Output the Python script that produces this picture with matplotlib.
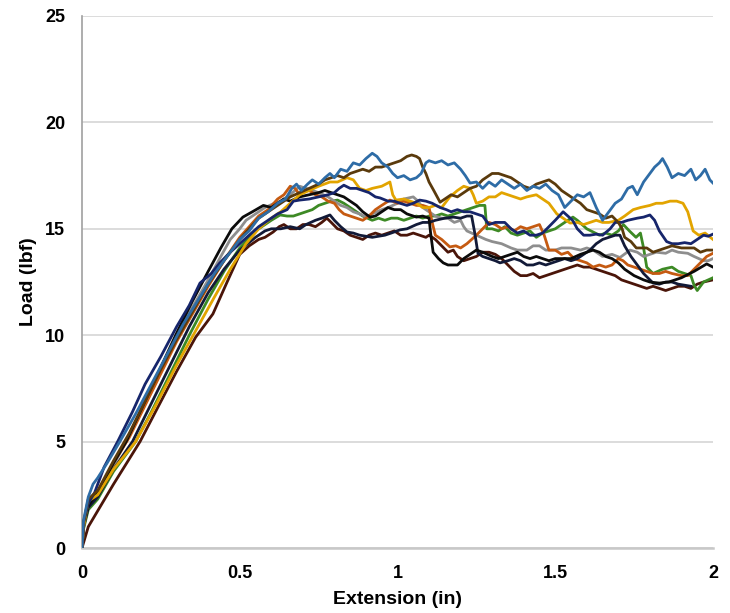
import numpy as np
import matplotlib.pyplot as plt

# Load vs extension traces, one list of (extension in, load lbf) per specimen
blue = [(0, 0), (0.005, 1.3), (0.02, 2.4), (0.035, 3.0), (0.05, 3.3), (0.08, 4.0), (0.12, 5.0), (0.17, 6.3),
        (0.22, 7.7), (0.27, 9.1), (0.32, 10.5), (0.37, 11.7), (0.42, 12.9), (0.47, 13.9), (0.5, 14.5),
        (0.53, 14.9), (0.56, 15.5), (0.59, 15.8), (0.62, 16.2), (0.645, 16.4), (0.665, 16.9), (0.68, 17.1),
        (0.695, 16.8), (0.715, 17.1), (0.73, 17.3), (0.75, 17.1), (0.77, 17.4), (0.786, 17.6), (0.8, 17.4),
        (0.82, 17.8), (0.84, 17.7), (0.86, 18.1), (0.88, 18.0), (0.9, 18.3), (0.92, 18.55), (0.935, 18.4),
        (0.95, 18.1), (0.97, 17.9), (0.985, 17.6), (1.0, 17.4), (1.02, 17.5), (1.04, 17.3), (1.06, 17.4),
        (1.075, 17.6), (1.09, 18.1), (1.1, 18.2), (1.12, 18.1), (1.14, 18.2), (1.16, 18.0), (1.18, 18.1),
        (1.2, 17.8), (1.215, 17.5), (1.23, 17.15), (1.25, 17.2), (1.27, 16.9), (1.29, 17.2), (1.31, 17.0),
        (1.33, 17.3), (1.35, 17.1), (1.37, 16.9), (1.39, 17.1), (1.41, 16.8), (1.43, 17.0), (1.45, 16.9),
        (1.47, 17.1), (1.49, 16.8), (1.51, 16.6), (1.53, 16.0), (1.55, 16.3), (1.57, 16.6), (1.59, 16.5),
        (1.61, 16.7), (1.63, 16.0), (1.65, 15.4), (1.67, 15.8), (1.69, 16.2), (1.71, 16.4), (1.73, 16.9),
        (1.745, 17.0), (1.76, 16.6), (1.78, 17.2), (1.8, 17.6), (1.815, 17.9), (1.83, 18.1), (1.84, 18.3),
        (1.855, 17.9), (1.87, 17.4), (1.89, 17.6), (1.91, 17.5), (1.93, 17.8), (1.945, 17.3), (1.96, 17.5),
        (1.975, 17.8), (1.99, 17.3), (2.0, 17.15)]

orange = [(0, 0), (0.005, 1.1), (0.02, 2.2), (0.05, 2.6), (0.1, 4.0), (0.15, 5.2), (0.2, 6.7), (0.25, 8.2),
          (0.3, 9.7), (0.35, 11.0), (0.4, 12.3), (0.45, 13.5), (0.5, 14.6), (0.53, 15.1), (0.56, 15.6),
          (0.59, 15.9), (0.62, 16.4), (0.64, 16.6), (0.66, 17.0), (0.675, 16.9), (0.69, 16.6), (0.705, 16.8),
          (0.72, 16.8), (0.74, 16.6), (0.76, 16.5), (0.78, 16.3), (0.8, 16.2), (0.815, 15.9), (0.83, 15.7),
          (0.85, 15.6), (0.87, 15.5), (0.89, 15.4), (0.91, 15.6), (0.93, 15.9), (0.95, 16.1), (0.976, 16.35),
          (1.0, 16.2), (1.02, 16.3), (1.04, 16.2), (1.06, 16.1), (1.08, 16.1), (1.1, 16.0), (1.11, 15.3),
          (1.12, 14.7), (1.14, 14.5), (1.166, 14.15), (1.185, 14.2), (1.2, 14.1), (1.22, 14.3), (1.25, 14.7),
          (1.27, 15.0), (1.29, 15.3), (1.31, 15.2), (1.33, 15.0), (1.35, 15.1), (1.37, 14.9), (1.39, 15.1),
          (1.41, 15.0), (1.43, 15.1), (1.45, 15.2), (1.465, 14.7), (1.48, 14.0), (1.5, 14.0), (1.52, 13.8),
          (1.54, 13.9), (1.56, 13.6), (1.58, 13.5), (1.6, 13.4), (1.62, 13.2), (1.64, 13.3), (1.66, 13.2),
          (1.68, 13.3), (1.7, 13.6), (1.715, 13.5), (1.73, 13.3), (1.75, 13.2), (1.77, 13.1), (1.79, 13.0),
          (1.81, 12.9), (1.83, 12.9), (1.85, 13.0), (1.87, 12.9), (1.9, 12.8), (1.92, 12.8), (1.94, 13.1),
          (1.96, 13.4), (1.98, 13.7), (2.0, 13.85)]

gray = [(0, 0), (0.005, 1.0), (0.02, 2.0), (0.05, 2.5), (0.1, 3.9), (0.14, 5.0), (0.2, 6.9), (0.25, 8.4),
        (0.3, 9.9), (0.35, 11.3), (0.4, 12.6), (0.44, 13.7), (0.47, 14.5), (0.5, 15.0), (0.52, 15.4),
        (0.55, 15.7), (0.58, 16.0), (0.61, 16.2), (0.63, 16.3), (0.66, 16.6), (0.69, 17.0), (0.71, 16.9),
        (0.73, 16.8), (0.75, 16.7), (0.78, 16.5), (0.8, 16.3), (0.82, 16.1), (0.84, 16.0), (0.86, 15.8),
        (0.88, 15.7), (0.9, 15.55), (0.92, 15.7), (0.95, 15.9), (0.97, 16.0), (1.0, 16.2), (1.02, 16.4),
        (1.05, 16.5), (1.065, 16.3), (1.08, 16.0), (1.1, 15.8), (1.12, 15.6), (1.14, 15.5), (1.16, 15.5),
        (1.18, 15.3), (1.2, 15.4), (1.21, 15.1), (1.22, 14.9), (1.25, 14.7), (1.28, 14.5), (1.3, 14.4),
        (1.33, 14.3), (1.36, 14.1), (1.38, 14.0), (1.41, 14.0), (1.43, 14.2), (1.45, 14.2), (1.47, 14.0),
        (1.5, 14.0), (1.52, 14.1), (1.55, 14.1), (1.58, 14.0), (1.6, 14.1), (1.62, 14.0), (1.65, 13.7),
        (1.68, 13.8), (1.705, 13.65), (1.737, 14.0), (1.76, 13.9), (1.78, 13.7), (1.8, 13.8), (1.82, 13.9),
        (1.85, 13.85), (1.87, 14.0), (1.89, 13.9), (1.92, 13.85), (1.94, 13.7), (1.97, 13.5), (1.985, 13.5),
        (2.0, 13.6)]

gold = [(0, 0), (0.005, 1.0), (0.02, 2.2), (0.05, 2.5), (0.1, 3.7), (0.17, 5.0), (0.23, 6.6), (0.3, 8.6),
        (0.36, 10.2), (0.42, 11.8), (0.47, 13.1), (0.52, 14.3), (0.56, 15.0), (0.6, 15.5), (0.63, 15.8),
        (0.66, 16.2), (0.69, 16.6), (0.72, 16.8), (0.75, 17.0), (0.786, 17.2), (0.81, 17.2), (0.84, 17.4),
        (0.86, 17.3), (0.88, 16.9), (0.9, 16.8), (0.92, 16.9), (0.95, 17.0), (0.976, 17.2), (0.985, 16.6),
        (0.995, 16.35), (1.02, 16.4), (1.04, 16.3), (1.06, 16.2), (1.08, 16.0), (1.1, 16.0), (1.12, 16.1),
        (1.14, 16.0), (1.166, 16.5), (1.19, 16.8), (1.21, 17.0), (1.23, 16.9), (1.24, 16.6), (1.25, 16.2),
        (1.27, 16.3), (1.29, 16.5), (1.31, 16.5), (1.33, 16.7), (1.35, 16.6), (1.37, 16.5), (1.39, 16.4),
        (1.41, 16.5), (1.44, 16.6), (1.46, 16.4), (1.48, 16.2), (1.505, 15.7), (1.525, 15.5), (1.547, 15.27),
        (1.57, 15.3), (1.59, 15.2), (1.61, 15.3), (1.63, 15.4), (1.65, 15.3), (1.67, 15.3), (1.7, 15.4),
        (1.72, 15.6), (1.747, 15.9), (1.77, 16.0), (1.8, 16.1), (1.82, 16.2), (1.84, 16.2), (1.864, 16.3),
        (1.885, 16.3), (1.905, 16.2), (1.92, 15.8), (1.937, 14.9), (1.955, 14.7), (1.975, 14.8), (2.0, 14.5)]

navy = [(0, 0), (0.005, 1.2), (0.02, 2.1), (0.04, 2.6), (0.07, 3.8), (0.113, 5.0), (0.16, 6.4), (0.2, 7.7),
        (0.25, 9.0), (0.3, 10.4), (0.34, 11.4), (0.374, 12.45), (0.41, 12.9), (0.437, 13.4), (0.47, 13.9),
        (0.5, 14.3), (0.53, 14.7), (0.56, 15.1), (0.59, 15.4), (0.62, 15.7), (0.65, 15.9), (0.67, 16.3),
        (0.69, 16.35), (0.72, 16.4), (0.75, 16.5), (0.78, 16.6), (0.8, 16.7), (0.815, 16.9), (0.83, 17.05),
        (0.85, 16.9), (0.87, 16.9), (0.89, 16.8), (0.91, 16.7), (0.93, 16.5), (0.945, 16.45), (0.97, 16.3),
        (0.99, 16.3), (1.008, 16.2), (1.03, 16.1), (1.05, 16.2), (1.07, 16.35), (1.09, 16.3), (1.11, 16.2),
        (1.135, 16.0), (1.155, 15.9), (1.17, 15.8), (1.19, 15.9), (1.21, 15.8), (1.23, 15.8), (1.25, 15.7),
        (1.27, 15.6), (1.29, 15.2), (1.31, 15.3), (1.34, 15.3), (1.36, 15.0), (1.38, 14.8), (1.4, 14.9),
        (1.42, 14.7), (1.44, 14.7), (1.46, 14.8), (1.48, 15.1), (1.5, 15.4), (1.525, 15.8), (1.54, 15.6),
        (1.555, 15.4), (1.57, 15.0), (1.59, 14.7), (1.61, 14.7), (1.63, 14.75), (1.65, 14.7), (1.674, 15.0),
        (1.69, 15.3), (1.71, 15.3), (1.73, 15.4), (1.76, 15.5), (1.78, 15.55), (1.8, 15.65), (1.815, 15.4),
        (1.83, 14.9), (1.853, 14.4), (1.87, 14.3), (1.89, 14.3), (1.91, 14.35), (1.93, 14.3), (1.95, 14.5),
        (1.97, 14.7), (1.985, 14.65), (2.0, 14.75)]

green = [(0, 0), (0.005, 0.9), (0.02, 1.8), (0.05, 2.3), (0.1, 3.6), (0.17, 5.0), (0.22, 6.4), (0.28, 8.2),
         (0.34, 10.0), (0.4, 11.7), (0.45, 13.0), (0.5, 14.1), (0.55, 14.9), (0.6, 15.4), (0.628, 15.65),
         (0.65, 15.6), (0.67, 15.6), (0.69, 15.7), (0.71, 15.8), (0.73, 15.9), (0.75, 16.1), (0.77, 16.2),
         (0.79, 16.3), (0.81, 16.35), (0.83, 16.2), (0.85, 16.0), (0.87, 15.8), (0.89, 15.6), (0.92, 15.4),
         (0.94, 15.5), (0.96, 15.4), (0.98, 15.5), (1.0, 15.5), (1.02, 15.4), (1.04, 15.5), (1.06, 15.6),
         (1.08, 15.5), (1.1, 15.6), (1.12, 15.6), (1.14, 15.7), (1.16, 15.6), (1.18, 15.7), (1.2, 15.8),
         (1.22, 15.9), (1.24, 16.0), (1.26, 16.1), (1.277, 16.1), (1.283, 15.0), (1.3, 15.0), (1.32, 14.9),
         (1.34, 15.1), (1.36, 14.8), (1.38, 14.7), (1.4, 14.8), (1.42, 14.9), (1.44, 14.6), (1.46, 14.8),
         (1.48, 14.9), (1.5, 15.0), (1.52, 15.2), (1.54, 15.4), (1.556, 15.55), (1.57, 15.4), (1.585, 15.2),
         (1.6, 15.0), (1.62, 14.85), (1.64, 14.7), (1.66, 14.8), (1.68, 14.7), (1.7, 14.9), (1.716, 15.2),
         (1.735, 14.9), (1.756, 14.6), (1.77, 14.8), (1.78, 14.1), (1.79, 13.2), (1.81, 12.9), (1.84, 13.1),
         (1.87, 13.2), (1.89, 13.0), (1.91, 12.9), (1.93, 12.8), (1.94, 12.35), (1.95, 12.1), (1.97, 12.5),
         (2.0, 12.7)]

black = [(0, 0), (0.005, 1.1), (0.02, 2.0), (0.05, 2.6), (0.1, 4.0), (0.14, 5.0), (0.2, 6.9), (0.25, 8.5),
         (0.3, 10.1), (0.35, 11.6), (0.4, 13.0), (0.44, 14.1), (0.475, 15.0), (0.51, 15.55), (0.54, 15.8),
         (0.575, 16.1), (0.6, 16.0), (0.62, 16.2), (0.64, 16.4), (0.66, 16.3), (0.69, 16.5), (0.72, 16.6),
         (0.75, 16.7), (0.77, 16.8), (0.79, 16.7), (0.81, 16.6), (0.83, 16.5), (0.85, 16.3), (0.87, 16.1),
         (0.89, 15.8), (0.913, 15.55), (0.93, 15.6), (0.95, 15.8), (0.97, 16.0), (0.99, 15.9), (1.01, 15.9),
         (1.03, 15.7), (1.06, 15.55), (1.08, 15.6), (1.1, 15.5), (1.105, 14.8), (1.113, 13.9), (1.13, 13.6),
         (1.145, 13.4), (1.16, 13.3), (1.19, 13.3), (1.21, 13.6), (1.23, 13.8), (1.25, 14.0), (1.27, 13.9),
         (1.3, 13.7), (1.32, 13.6), (1.34, 13.7), (1.36, 13.8), (1.38, 13.9), (1.4, 13.7), (1.42, 13.6),
         (1.44, 13.7), (1.46, 13.6), (1.48, 13.5), (1.5, 13.6), (1.52, 13.6), (1.55, 13.6), (1.58, 13.8),
         (1.6, 13.9), (1.62, 14.0), (1.64, 13.9), (1.66, 13.7), (1.68, 13.6), (1.7, 13.4), (1.72, 13.1),
         (1.75, 12.8), (1.78, 12.6), (1.8, 12.5), (1.83, 12.45), (1.86, 12.5), (1.9, 12.7), (1.94, 13.0),
         (1.98, 13.35), (2.0, 13.2)]

brown = [(0, 0), (0.005, 1.2), (0.02, 2.3), (0.05, 2.7), (0.1, 4.1), (0.15, 5.4), (0.2, 6.9), (0.25, 8.4),
         (0.3, 9.8), (0.35, 11.1), (0.4, 12.4), (0.45, 13.5), (0.5, 14.5), (0.53, 15.0), (0.56, 15.5),
         (0.6, 15.9), (0.63, 16.2), (0.66, 16.5), (0.69, 16.7), (0.72, 16.9), (0.75, 17.1), (0.77, 17.3),
         (0.79, 17.4), (0.81, 17.5), (0.83, 17.4), (0.85, 17.6), (0.87, 17.7), (0.89, 17.8), (0.91, 17.7),
         (0.93, 17.9), (0.95, 17.9), (0.97, 18.0), (0.99, 18.1), (1.01, 18.2), (1.03, 18.4), (1.045, 18.47),
         (1.06, 18.4), (1.07, 18.3), (1.08, 17.9), (1.09, 17.6), (1.1, 17.2), (1.115, 16.8), (1.135, 16.25),
         (1.15, 16.4), (1.17, 16.6), (1.19, 16.5), (1.21, 16.7), (1.23, 16.9), (1.25, 17.0), (1.27, 17.3),
         (1.29, 17.5), (1.3, 17.6), (1.32, 17.6), (1.34, 17.5), (1.36, 17.4), (1.38, 17.2), (1.4, 17.0),
         (1.42, 16.9), (1.44, 17.1), (1.46, 17.2), (1.48, 17.3), (1.5, 17.1), (1.52, 16.8), (1.54, 16.6),
         (1.56, 16.4), (1.58, 16.2), (1.6, 15.9), (1.62, 15.8), (1.64, 15.7), (1.66, 15.5), (1.68, 15.6),
         (1.7, 15.3), (1.712, 15.0), (1.72, 14.6), (1.74, 14.4), (1.757, 14.1), (1.79, 14.1), (1.81, 13.9),
         (1.83, 14.0), (1.85, 14.1), (1.87, 14.2), (1.9, 14.1), (1.94, 14.1), (1.96, 13.9), (1.98, 14.0),
         (2.0, 14.0)]

maroon = [(0, 0), (0.01, 0.5), (0.02, 1.0), (0.1, 3.0), (0.184, 5.0), (0.24, 6.6), (0.3, 8.3), (0.36, 9.9),
          (0.415, 11.0), (0.46, 12.5), (0.5, 13.8), (0.53, 14.2), (0.56, 14.5), (0.58, 14.6), (0.606, 14.85),
          (0.625, 15.1), (0.64, 15.2), (0.66, 15.0), (0.68, 15.0), (0.7, 15.2), (0.72, 15.2), (0.74, 15.1),
          (0.76, 15.3), (0.776, 15.5), (0.79, 15.3), (0.81, 15.0), (0.83, 14.9), (0.85, 14.7), (0.87, 14.6),
          (0.89, 14.5), (0.91, 14.7), (0.93, 14.8), (0.95, 14.7), (0.97, 14.8), (0.99, 14.9), (1.01, 14.7),
          (1.03, 14.7), (1.05, 14.8), (1.07, 14.7), (1.09, 14.6), (1.1, 14.7), (1.12, 14.5), (1.14, 14.2),
          (1.16, 13.9), (1.177, 14.0), (1.19, 13.7), (1.21, 13.5), (1.23, 13.6), (1.25, 13.7), (1.27, 13.9),
          (1.29, 13.9), (1.31, 13.8), (1.33, 13.6), (1.35, 13.3), (1.37, 13.0), (1.39, 12.8), (1.41, 12.8),
          (1.43, 12.9), (1.45, 12.7), (1.47, 12.8), (1.49, 12.9), (1.51, 13.0), (1.53, 13.1), (1.55, 13.2),
          (1.57, 13.3), (1.59, 13.2), (1.61, 13.2), (1.63, 13.1), (1.65, 13.0), (1.67, 12.9), (1.69, 12.8),
          (1.71, 12.6), (1.73, 12.5), (1.75, 12.4), (1.77, 12.3), (1.79, 12.2), (1.81, 12.3), (1.83, 12.2),
          (1.85, 12.1), (1.87, 12.2), (1.89, 12.3), (1.91, 12.3), (1.93, 12.2), (1.95, 12.4), (1.97, 12.5),
          (2.0, 12.6)]

ink = [(0, 0), (0.005, 1.0), (0.02, 1.9), (0.05, 2.4), (0.1, 3.7), (0.16, 5.0), (0.22, 6.8), (0.28, 8.6),
       (0.34, 10.4), (0.4, 12.0), (0.45, 13.1), (0.5, 14.0), (0.55, 14.6), (0.58, 14.9), (0.6, 15.0),
       (0.63, 15.0), (0.66, 15.1), (0.69, 15.0), (0.71, 15.2), (0.74, 15.4), (0.76, 15.5), (0.786, 15.65),
       (0.8, 15.4), (0.82, 15.1), (0.84, 14.85), (0.86, 14.8), (0.88, 14.7), (0.9, 14.65), (0.92, 14.6),
       (0.94, 14.65), (0.96, 14.7), (0.98, 14.8), (1.008, 14.95), (1.03, 15.0), (1.06, 15.2), (1.08, 15.3),
       (1.1, 15.3), (1.12, 15.4), (1.15, 15.5), (1.177, 15.55), (1.2, 15.5), (1.22, 15.6), (1.235, 15.6),
       (1.245, 14.8), (1.255, 13.85), (1.27, 13.7), (1.29, 13.6), (1.31, 13.5), (1.325, 13.4), (1.35, 13.5),
       (1.37, 13.6), (1.39, 13.5), (1.41, 13.3), (1.43, 13.3), (1.45, 13.4), (1.47, 13.3), (1.49, 13.4),
       (1.51, 13.5), (1.53, 13.6), (1.55, 13.5), (1.57, 13.6), (1.59, 13.8), (1.61, 14.0), (1.63, 14.3),
       (1.65, 14.5), (1.67, 14.6), (1.69, 14.7), (1.705, 14.7), (1.72, 14.2), (1.74, 13.7), (1.76, 13.3),
       (1.78, 12.9), (1.8, 12.6), (1.81, 12.45), (1.83, 12.4), (1.85, 12.5), (1.87, 12.5), (1.89, 12.4),
       (1.91, 12.35), (1.93, 12.3)]

traces = [
    (maroon, "#4a1509"),
    (green, "#3d8a25"),
    (gray, "#8e8e8e"),
    (orange, "#c55a11"),
    (ink, "#121a38"),
    (black, "#0b0b0b"),
    (gold, "#e2a400"),
    (navy, "#16256b"),
    (brown, "#5a3a0c"),
    (blue, "#2e6ca6"),
]

plt.rcParams['font.family'] = ['Liberation Sans', 'DejaVu Sans']

fig = plt.figure(figsize=(7.3, 6.13), dpi=100)
ax = fig.add_axes([0.1123, 0.106, 0.8644, 0.8679])

for pts, color in traces:
    xy = np.array(pts)
    ax.plot(xy[:, 0], xy[:, 1], color=color, lw=2.0, solid_joinstyle='round', zorder=3)

ax.set_xlim(0, 2)
ax.set_ylim(0, 25)
ax.set_xticks([0, 0.5, 1, 1.5, 2])
ax.set_xticklabels(["0", "0.5", "1", "1.5", "2"])
ax.set_yticks([0, 5, 10, 15, 20, 25])

ax.yaxis.grid(True, color="#d9d9d9", lw=1.3)
ax.set_axisbelow(True)
for side in ("top", "right"):
    ax.spines[side].set_visible(False)
ax.spines["left"].set_color("#a0a0a0")
ax.spines["left"].set_linewidth(1.2)
ax.spines["bottom"].set_color("#c8c8c8")
ax.spines["bottom"].set_linewidth(1.8)

ax.tick_params(length=0, pad=12, labelsize=13)
for lbl in ax.get_xticklabels() + ax.get_yticklabels():
    lbl.set_fontweight("bold")

ax.set_xlabel("Extension (in)", fontsize=14, fontweight="bold", labelpad=7)
ax.set_ylabel("Load (lbf)", fontsize=14, fontweight="bold", labelpad=6)

fig.savefig("out.png", dpi=100)
